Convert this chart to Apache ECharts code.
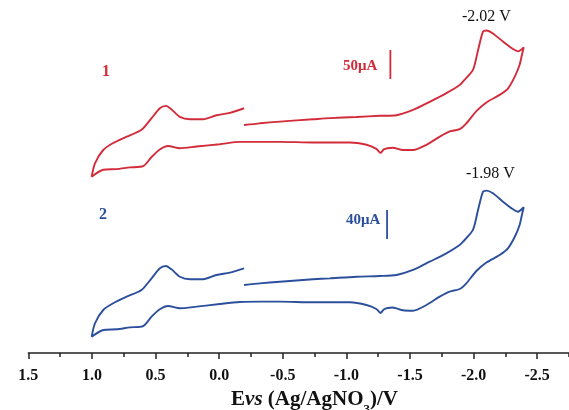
<!DOCTYPE html>
<html>
<head>
<meta charset="utf-8">
<script src="https://cdn.jsdelivr.net/npm/echarts@6/dist/echarts.min.js"></script>
<style>html,body{margin:0;padding:0;background:#fff}#c{width:569px;height:410px}</style>
</head>
<body>
<div id="c"></div>
<script>
// Potential (V vs Ag/AgNO3), scanned order of points along each loop
var redE = [-0.196,-0.320,-0.477,-0.738,-0.870,-1.079,-1.262,-1.394,-1.524,-1.655,-1.786,-1.891,-1.917,-1.995,-2.035,-2.074,-2.101,-2.152,-2.231,-2.310,-2.349,-2.394,-2.378,-2.362,-2.323,-2.270,-2.205,-2.101,-2.022,-1.943,-1.891,-1.812,-1.734,-1.629,-1.524,-1.445,-1.364,-1.325,-1.294,-1.268,-1.236,-1.158,-1.027,-0.738,-0.477,-0.320,-0.163,-0.005,0.178,0.309,0.401,0.466,0.531,0.597,0.701,0.806,0.911,1.002,0.976,0.911,0.833,0.727,0.610,0.531,0.466,0.419,0.374,0.309,0.230,0.126,0.020,-0.084,-0.196];
// Current of curve 1 (uA, arbitrary offset)
var redI = [393,396,399,403,405,407,409,410,419,433,448,462,468,488,522,554,556,551,537,524,520,527,512,497,476,456,445,432,417,396,386,382,373,359,350,350,354,353,351,345,352,359,363,363,364,364,364,360,356,353,357,351,338,322,320,317,316,304,327,350,362,373,385,405,422,426,420,407,403,403,410,414,422];
var blueE = [-0.196,-0.320,-0.477,-0.738,-0.870,-1.079,-1.262,-1.394,-1.524,-1.655,-1.786,-1.891,-1.917,-1.995,-2.035,-2.074,-2.101,-2.152,-2.231,-2.310,-2.349,-2.394,-2.378,-2.362,-2.323,-2.270,-2.205,-2.101,-2.022,-1.943,-1.891,-1.812,-1.734,-1.629,-1.524,-1.445,-1.364,-1.325,-1.294,-1.268,-1.236,-1.158,-1.027,-0.738,-0.477,-0.320,-0.163,-0.005,0.178,0.309,0.401,0.466,0.531,0.597,0.701,0.806,0.911,1.002,0.976,0.911,0.833,0.727,0.610,0.531,0.466,0.419,0.374,0.309,0.230,0.126,0.020,-0.084,-0.196];
// Current of curve 2 (uA, arbitrary offset)
var blueI = [93.8,96.1,98.3,101.7,103.0,105.2,106.2,107.6,114.5,125.9,137.5,149.0,153.5,169.7,197.2,222.5,223.9,220.3,208.7,198.2,194.9,201.0,189.0,176.6,160.0,144.4,135.2,124.8,113.1,96.1,88.3,84.6,77.7,66.2,58.3,58.9,62.8,62.1,60.0,55.2,60.7,66.2,69.9,69.9,70.8,70.8,70.3,67.6,63.9,61.7,64.8,60.3,50.1,37.2,35.4,32.7,31.7,22.5,41.0,59.3,68.6,77.7,86.9,103.0,116.8,120.0,115.4,105.2,101.7,101.7,107.6,110.8,116.8];
// Scale bars
var redBarE = [-1.346,-1.346], redBarI = [472.4,522.4];   // 50 uA
var blueBarE = [-1.320,-1.320], blueBarI = [157.2,197.2]; // 40 uA
var xTicks = {min:-3.0, max:1.5, interval:0.5};

function zip(a,b){return a.map(function(v,i){return [v,b[i]];});}
var RED = '#d22b3a', BLUE = '#2c4f9c';
var serif = '"Liberation Serif","DejaVu Serif",serif';

var chart = echarts.init(document.getElementById('c'));
chart.setOption({
  animation:false,
  backgroundColor:'#fff',
  grid:{left:28.3, right:-31.8, top:10, bottom:56, containLabel:false, outerBoundsMode:'none'},
  xAxis:{
    type:'value', inverse:true, min:xTicks.min, max:xTicks.max, interval:xTicks.interval,
    axisLine:{show:true, lineStyle:{color:'#222', width:1.5}},
    axisTick:{show:true, inside:false, length:6, lineStyle:{color:'#222', width:1.5}},
    minorTick:{show:true, splitNumber:2, length:4, lineStyle:{color:'#222', width:1.5}},
    splitLine:{show:false},
    axisLabel:{margin:14, color:'#111', fontFamily:serif, fontWeight:'bold', fontSize:16,
      formatter:function(v){return v.toFixed(1);}},
    name:'{b|E}{i|vs}{b| (Ag/AgNO}{s|3}{b|)/V}',
    nameLocation:'middle', nameGap:32,
    nameTextStyle:{
      rich:{
        b:{fontFamily:serif, fontWeight:'bold', fontSize:21, color:'#111', verticalAlign:'bottom', lineHeight:24},
        i:{fontFamily:serif, fontWeight:'bold', fontStyle:'italic', fontSize:21, color:'#111', verticalAlign:'bottom', lineHeight:24},
        s:{fontFamily:serif, fontWeight:'bold', fontSize:13, color:'#111', verticalAlign:'bottom', lineHeight:14, padding:[0,0,-6,0]}
      }
    }
  },
  yAxis:[
    {type:'value', min:-1.72, max:591.38, show:false},
    {type:'value', min:-1.38, max:473.1, show:false}
  ],
  graphic:[
    {type:'text', left:488-26, top:18-9, style:{text:'-2.02 V', font:'16px '+serif, fill:'#111'}},
    {type:'text', left:492-26, top:175-9, style:{text:'-1.98 V', font:'16px '+serif, fill:'#111'}},
    {type:'text', left:102, top:64, style:{text:'1', font:'bold 16px '+serif, fill:RED}},
    {type:'text', left:99, top:207, style:{text:'2', font:'bold 16px '+serif, fill:BLUE}},
    {type:'text', left:343, top:59, style:{text:'50μA', font:'bold 15px '+serif, fill:RED}},
    {type:'text', left:346, top:213, style:{text:'40μA', font:'bold 15px '+serif, fill:BLUE}}
  ],
  series:[
    {type:'line', yAxisIndex:0, data:zip(redE,redI), showSymbol:false, smooth:0.25,
      lineStyle:{color:RED, width:1.9}},
    {type:'line', yAxisIndex:1, data:zip(blueE,blueI), showSymbol:false, smooth:0.25,
      lineStyle:{color:BLUE, width:1.9}},
    {type:'line', yAxisIndex:0, data:zip(redBarE,redBarI), showSymbol:false,
      lineStyle:{color:RED, width:1.8}},
    {type:'line', yAxisIndex:1, data:zip(blueBarE,blueBarI), showSymbol:false,
      lineStyle:{color:BLUE, width:1.8}}
  ]
});
</script>
</body>
</html>
